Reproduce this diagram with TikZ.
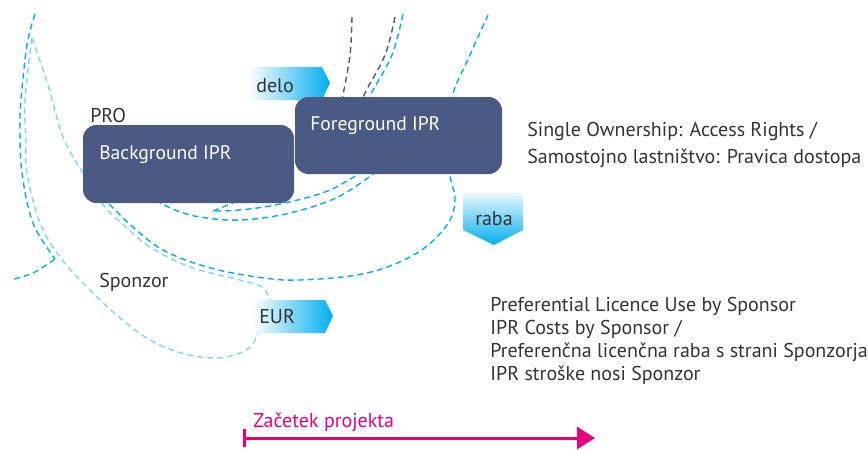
\documentclass[tikz,border=0pt]{standalone}
\usepackage{fontspec}
\setmainfont{PT Sans}
\usetikzlibrary{arrows.meta}
\definecolor{boxc}{HTML}{4A5A85}
\definecolor{cyanA}{HTML}{00AEEF}
\definecolor{cyanL}{HTML}{80D4F6}
\definecolor{navyD}{HTML}{4A5A85}
\definecolor{txt}{HTML}{333333}
\definecolor{pinkA}{HTML}{E6007E}
\tikzset{
  dsh/.style={line width=1.05pt, dash pattern=on 4.5pt off 3pt},
  brightc/.style={dsh, draw=cyanA},
  lightc/.style={dsh, draw=cyanL},
  navyc/.style={dsh, draw=navyD},
  box/.style={fill=boxc, rounded corners=10pt, inner sep=0pt},
  lbl/.style={text=txt, inner sep=0pt, anchor=base west, font=\fontsize{15}{18}\selectfont},
  boxlbl/.style={text=white, inner sep=0pt, anchor=base west, font=\fontsize{14.7}{18}\selectfont},
  pinkl/.style={text=pinkA, inner sep=0pt, anchor=base west, font=\fontsize{15}{18}\selectfont},
}
\begin{document}
\begin{tikzpicture}[x=0.75pt,y=-0.75pt]
\useasboundingbox (0,0) rectangle (868,450);
% dashed curves
\draw[brightc] plot[smooth, tension=0.6] coordinates {(35,14) (27,45) (21,100) (20,130) (22,173) (33,223) (55,259)};
\draw[brightc] plot[smooth, tension=0.6] coordinates {(55,259) (33,273) (10,280)};
\draw[lightc] plot[smooth, tension=0.6] coordinates {(32,38) (25,100) (26,140) (27,173) (40,223) (60,257) (90,290) (120,318) (150,340) (185,354) (217,358) (240,353) (252,345) (258,333)};
\draw[lightc] plot[smooth, tension=0.6] coordinates {(32,38) (48,85) (63,137) (83,173) (105,207) (127,228) (150,247) (190,267) (240,280) (262,287) (270,300)};
\draw[brightc] plot[smooth, tension=0.6] coordinates {(95,190) (110,205) (133,227) (163,250) (207,267) (257,277) (300,280) (367,273) (417,253) (447,225) (455,200) (450,175) (449,140) (452,97) (470,55) (488,15)};
\draw[brightc] plot[smooth, tension=0.6] coordinates {(372,165) (330,190) (280,204) (240,210) (213,211)};
\draw[brightc] (213,211) -- (233,203);
\draw[brightc] plot[smooth, tension=0.6] coordinates {(385,165) (340,196) (290,213) (240,220) (200,217) (175,210) (155,200)};
\draw[navyc] plot[smooth, tension=0.6] coordinates {(352,17) (350,55) (343,95) (340,110)};
\draw[navyc] plot[smooth, tension=0.6] coordinates {(395,17) (385,55) (365,93) (360,110)};
\draw[brightc] plot[smooth, tension=0.6] coordinates {(403,14) (392,55) (371,94) (366,110)};
% delo arrow
\shade[left color=white, right color=cyanA] (248,67) -- (322,67) -- (330,83) -- (322,100) -- (248,100) -- cycle;
% boxes
\node[box, minimum width=158.25pt, minimum height=58.5pt] (bg) at (188.5,164) {};
\node[box, minimum width=155.25pt, minimum height=57.75pt] (fg) at (398.5,135.5) {};
% raba arrow
\shade[top color=cyanA!8, bottom color=cyanA] (463,193) -- (523,193) -- (523,230) -- (494,245) -- (463,230) -- cycle;
% EUR arrow
\shade[left color=white, right color=cyanA] (252,300) -- (325,300) -- (333,316) -- (325,333) -- (252,333) -- cycle;
% texts
\node[lbl] (delo) at (256,92) {delo};
\node[lbl] (raba) at (475,225) {raba};
\node[lbl] (eur) at (259,323) {EUR};
\node[lbl] (pro) at (90,122) {PRO};
\node[lbl] (spon) at (99,287) {Sponzor};
\node[boxlbl] (bgt) at (99,159) {Background IPR};
\node[boxlbl] (fgt) at (310,130) {Foreground IPR};
\node[lbl] (so1) at (527,136) {Single Ownership: Access Rights /};
\node[lbl] (so2) at (527,163) {Samostojno lastništvo: Pravica dostopa};
\node[lbl] (pr1) at (490,311) {Preferential Licence Use by Sponsor};
\node[lbl] (pr2) at (490,334) {IPR Costs by Sponsor /};
\node[lbl] (pr3) at (490,357) {Preferenčna licenčna raba s strani Sponzorja};
\node[lbl] (pr4) at (490,380) {IPR stroške nosi Sponzor};
\node[pinkl] (zac) at (253,427) {Začetek projekta};
\coordinate (ps) at (243,438);
\coordinate (pe) at (595,438);
\draw[pinkA, line width=2.25pt, {Bar[width=13.5pt]}-{Triangle[length=13.5pt,width=16.5pt]}] (ps) -- (pe);
\end{tikzpicture}
\end{document}
